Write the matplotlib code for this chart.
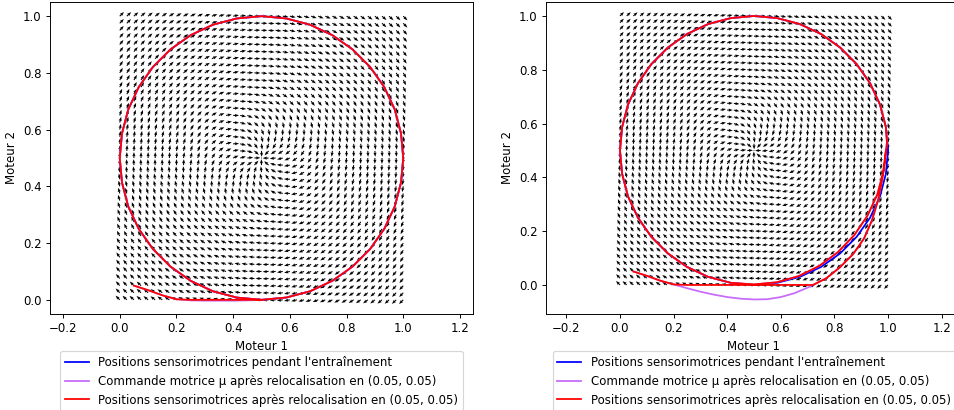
import numpy as np
import matplotlib
matplotlib.use("Agg")
import matplotlib.pyplot as plt

# training trajectory (circle, 10 degree steps, counter-clockwise from (1, 0.5))
train_x = [1.000, 0.992, 0.970, 0.933, 0.883, 0.821, 0.750, 0.671, 0.587, 0.500,
           0.413, 0.329, 0.250, 0.179, 0.117, 0.067, 0.030, 0.008, 0.000,
           0.008, 0.030, 0.067, 0.117, 0.179, 0.250, 0.329, 0.413, 0.500,
           0.587, 0.671, 0.750, 0.821, 0.883, 0.933, 0.970, 0.992, 1.000]
train_y = [0.500, 0.587, 0.671, 0.750, 0.821, 0.883, 0.933, 0.970, 0.992, 1.000,
           0.992, 0.970, 0.933, 0.883, 0.821, 0.750, 0.671, 0.587, 0.500,
           0.413, 0.329, 0.250, 0.179, 0.117, 0.067, 0.030, 0.008, 0.000,
           0.008, 0.030, 0.067, 0.117, 0.179, 0.250, 0.329, 0.413, 0.500]

# left: relocalised at (0.05, 0.05), sensorimotor positions
left_pos_x = [0.05, 0.10, 0.15, 0.20, 0.25, 0.30, 0.35, 0.40, 0.45, 0.50,
              0.587, 0.671, 0.750, 0.821, 0.883, 0.933, 0.970, 0.992, 1.000,
              0.992, 0.970, 0.933, 0.883, 0.821, 0.750, 0.671, 0.587, 0.500,
              0.413, 0.329, 0.250, 0.179, 0.117, 0.067, 0.030, 0.008, 0.000,
              0.008, 0.030, 0.067, 0.117, 0.179, 0.250, 0.329, 0.413, 0.500]
left_pos_y = [0.05, 0.034, 0.016, 0.002, 0.0, 0.0, 0.0, 0.0, 0.0, 0.0,
              0.008, 0.030, 0.067, 0.117, 0.179, 0.250, 0.329, 0.413, 0.500,
              0.587, 0.671, 0.750, 0.821, 0.883, 0.933, 0.970, 0.992, 1.000,
              0.992, 0.970, 0.933, 0.883, 0.821, 0.750, 0.671, 0.587, 0.500,
              0.413, 0.329, 0.250, 0.179, 0.117, 0.067, 0.030, 0.008, 0.000]
# left: motor command mu (only dips a hair below 0)
left_mu_x = left_pos_x
left_mu_y = [0.05, 0.034, 0.016, 0.002, -0.002, -0.003, -0.003, -0.003, -0.002, 0.0,
             0.008, 0.030, 0.067, 0.117, 0.179, 0.250, 0.329, 0.413, 0.500,
             0.587, 0.671, 0.750, 0.821, 0.883, 0.933, 0.970, 0.992, 1.000,
             0.992, 0.970, 0.933, 0.883, 0.821, 0.750, 0.671, 0.587, 0.500,
             0.413, 0.329, 0.250, 0.179, 0.117, 0.067, 0.030, 0.008, 0.000]

# right: sensorimotor positions
right_pos_x = [0.05, 0.10, 0.15, 0.20, 0.25, 0.30, 0.35, 0.40, 0.45, 0.50, 0.55, 0.60, 0.65, 0.70, 0.72,
               0.77, 0.82, 0.87, 0.91, 0.94, 0.963, 0.978, 0.988, 0.996,
               0.992, 0.970, 0.933, 0.883, 0.821, 0.750, 0.671, 0.587, 0.500,
               0.413, 0.329, 0.250, 0.179, 0.117, 0.067, 0.030, 0.008, 0.000,
               0.008, 0.030, 0.067, 0.117, 0.179, 0.250, 0.329, 0.413, 0.500,
               0.585, 0.667, 0.744, 0.813, 0.874, 0.923, 0.960, 0.982, 0.992]
right_pos_y = [0.05, 0.034, 0.016, 0.002, 0.0, 0.0, 0.0, 0.0, 0.0, 0.0, 0.0, 0.0, 0.0, 0.0, 0.0,
               0.025, 0.065, 0.115, 0.172, 0.240, 0.315, 0.390, 0.455, 0.530,
               0.587, 0.671, 0.750, 0.821, 0.883, 0.933, 0.970, 0.992, 1.000,
               0.992, 0.970, 0.933, 0.883, 0.821, 0.750, 0.671, 0.587, 0.500,
               0.413, 0.329, 0.250, 0.179, 0.117, 0.067, 0.030, 0.008, 0.002,
               0.010, 0.033, 0.071, 0.122, 0.185, 0.257, 0.336, 0.418, 0.500]
# right: motor command mu, dips below the square
right_mu_x = right_pos_x
right_mu_y = [0.05, 0.034, 0.016, 0.002, -0.012, -0.025, -0.036, -0.045, -0.051, -0.054, -0.053, -0.045, -0.031, -0.010, 0.0,
              0.025, 0.065, 0.115, 0.172, 0.240, 0.315, 0.390, 0.455, 0.530,
              0.587, 0.671, 0.750, 0.821, 0.883, 0.933, 0.970, 0.992, 1.000,
              0.992, 0.970, 0.933, 0.883, 0.821, 0.750, 0.671, 0.587, 0.500,
              0.413, 0.329, 0.250, 0.179, 0.117, 0.067, 0.030, 0.008, 0.002,
              0.010, 0.033, 0.071, 0.122, 0.185, 0.257, 0.336, 0.418, 0.500]

labels = ["Positions sensorimotrices pendant l'entraînement",
          "Commande motrice \u00b5 après relocalisation en (0.05, 0.05)",
          "Positions sensorimotrices après relocalisation en (0.05, 0.05)"]

# vector field on a 41x41 grid (spiral around the centre)
grid = np.linspace(0, 1, 41)
X, Y = np.meshgrid(grid, grid)
field_center = (0.5, 0.5)
twist_radius = 0.18
dx = X - field_center[0]
dy = Y - field_center[1]
r = np.hypot(dx, dy)
theta = np.arctan2(dy, dx)
phi = theta - np.pi/2 - np.pi/2*np.exp(-(r/twist_radius)**2)
U = np.cos(phi)
V = np.sin(phi)
U[r == 0] = 0
V[r == 0] = 0

# reference was rendered smaller than 100 dpi
DPI = 85
fig = plt.figure(figsize=(955/DPI, 410/DPI), dpi=DPI)
ax1 = fig.add_axes([50/955, 96/410, 423/955, 312/410])
ax2 = fig.add_axes([546/955, 96/410, 416/955, 312/410])

panels = [(ax1, left_mu_x, left_mu_y, left_pos_x, left_pos_y, (-0.246, 1.246), (-0.05, 1.05)),
          (ax2, right_mu_x, right_mu_y, right_pos_x, right_pos_y, (-0.276, 1.276), (-0.108, 1.052))]

for ax, mx, my, px, py, xl, yl in panels:
    ax.quiver(X, Y, U, V, angles='xy', scale_units='xy', scale=48,
              width=0.0025, headwidth=3, headlength=4, headaxislength=3.5, color='black')
    ax.plot(train_x, train_y, color='blue', label=labels[0])
    ax.plot(mx, my, color='#c86bfa', label=labels[1])
    ax.plot(px, py, color='red', label=labels[2])
    ax.set_xlim(*xl)
    ax.set_ylim(*yl)
    ax.set_xticks(np.arange(-0.2, 1.21, 0.2))
    ax.set_yticks(np.arange(0.0, 1.01, 0.2))
    ax.set_xlabel('Moteur 1')
    ax.set_ylabel('Moteur 2')
    ax.legend(loc='upper center', bbox_to_anchor=(0.5, -0.1))

fig.savefig('out.png', dpi=DPI)
